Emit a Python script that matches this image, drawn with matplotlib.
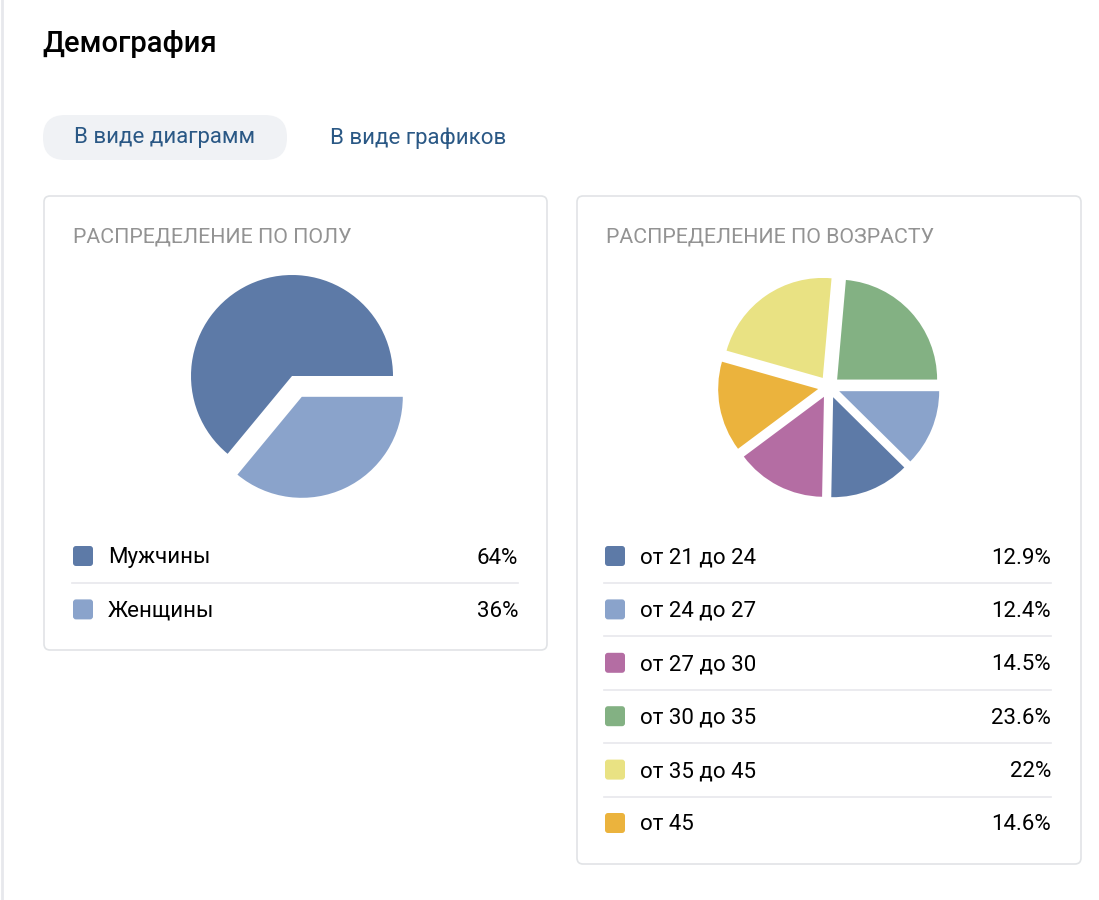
import matplotlib
matplotlib.use("Agg")
import matplotlib.pyplot as plt
from matplotlib.patches import FancyBboxPatch

plt.rcParams['font.family'] = ['Roboto', 'DejaVu Sans']

# data
gender_labels = ['Мужчины', 'Женщины']
gender_values = [64, 36]
gender_colors = ['#5d7aa7', '#8aa3cb']

age_labels = ['от 21 до 24', 'от 24 до 27', 'от 27 до 30', 'от 30 до 35', 'от 35 до 45', 'от 45']
age_values = [12.9, 12.4, 14.5, 23.6, 22, 14.6]
age_colors = ['#5d7aa7', '#8aa3cb', '#b46da3', '#83b183', '#e9e283', '#ebb33d']
# order of slices counter-clockwise from 3 o'clock
age_pie_order = [3, 4, 5, 2, 0, 1]

W, H = 1099, 900
fig = plt.figure(figsize=(W / 100, H / 100), dpi=100)
ax = fig.add_axes([0, 0, 1, 1])
ax.set_xlim(0, W)
ax.set_ylim(H, 0)
ax.axis('off')

ax.plot([1.5, 1.5], [0, H], color='#e7e8ec', lw=2)

ax.text(42, 44, 'Демография', fontsize=21, weight='medium', color='#000000', va='center')

# tabs
ax.add_patch(FancyBboxPatch((43, 115), 244, 45, boxstyle='round,pad=0,rounding_size=22',
                            fc='#f0f2f5', ec='none'))
ax.text(165, 138, 'В виде диаграмм', fontsize=16, color='#2a5885', ha='center', va='center')
ax.text(330, 138, 'В виде графиков', fontsize=16, color='#2a5885', ha='left', va='center')


def card(x0, y0, x1, y1):
    ax.add_patch(FancyBboxPatch((x0, y0), x1 - x0, y1 - y0, boxstyle='round,pad=0,rounding_size=6',
                                fc='white', ec='#e1e3e6', lw=1.2))


def legend(x0, x1, y_start, labels, values, colors):
    step = 53.4
    for i, (lab, val, col) in enumerate(zip(labels, values, colors)):
        y = y_start + i * step
        ax.add_patch(FancyBboxPatch((x0 + 2, y - 8), 16, 16, boxstyle='round,pad=2,rounding_size=3',
                                    fc=col, ec='none'))
        ax.text(x0 + 35, y + 7.5, lab, fontsize=16, color='#000000', va='baseline', ha='left')
        ax.text(x1, y + 7.5, f'{val:g}%', fontsize=16, color='#000000', va='baseline', ha='right')
        if i < len(labels) - 1:
            ax.plot([x0 - 1, x1], [y + 27, y + 27], color='#e7e8ec', lw=1.2)


card(44, 196, 547, 650)
card(577, 196, 1081, 864)

ax.text(73, 237, 'РАСПРЕДЕЛЕНИЕ ПО ПОЛУ', fontsize=15.4, color='#939393', va='center')
ax.text(606, 237, 'РАСПРЕДЕЛЕНИЕ ПО ВОЗРАСТУ', fontsize=15.4, color='#939393', va='center')

legend(73, 518, 556, gender_labels, gender_values, gender_colors)
legend(605, 1051, 556, age_labels, age_values, age_colors)


def pie_axes(cx, cy, half=150):
    pax = fig.add_axes([(cx - half) / W, (H - cy - half) / H, 2 * half / W, 2 * half / H])
    return pax


pax1 = pie_axes(292, 376)
pax1.pie(gender_values, colors=gender_colors, startangle=0, counterclock=True,
         explode=[0, 0.23], radius=1.01, frame=True)
pax1.set_xlim(-1.5, 1.5)
pax1.set_ylim(-1.5, 1.5)
pax1.axis('off')

pax2 = pie_axes(829, 387)
pax2.pie([age_values[i] for i in age_pie_order], colors=[age_colors[i] for i in age_pie_order],
         startangle=0, counterclock=True, explode=[0.11] * len(age_values), radius=1.0, frame=True)
pax2.set_xlim(-1.5, 1.5)
pax2.set_ylim(-1.5, 1.5)
pax2.axis('off')

fig.savefig('out.png', dpi=100)
